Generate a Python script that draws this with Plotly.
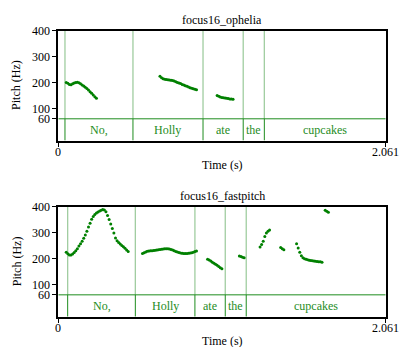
import plotly.graph_objects as go

T_END = 2.061

# ---- top panel: focus16_ophelia ----
top_no_t = [0.05, 0.06, 0.07, 0.08, 0.09, 0.10, 0.11, 0.12, 0.13, 0.14, 0.15, 0.16, 0.17, 0.18, 0.19, 0.20, 0.21, 0.22, 0.23, 0.24]
top_no_f = [200, 197, 193, 192, 195, 198, 200, 201, 199, 195, 191, 187, 182, 177, 171, 165, 159, 152, 145, 139]
top_holly_t = [0.64, 0.65, 0.66, 0.67, 0.68, 0.69, 0.70, 0.71, 0.72, 0.73, 0.74, 0.75, 0.76, 0.77, 0.78, 0.79, 0.80, 0.81, 0.82, 0.83, 0.84, 0.85, 0.86, 0.87]
top_holly_f = [224, 219, 215, 213, 212, 211, 210, 209, 208, 206, 203, 200, 198, 196, 193, 191, 188, 186, 183, 180, 178, 176, 174, 172]
top_ate_t = [1.00, 1.01, 1.02, 1.03, 1.04, 1.05, 1.06, 1.07, 1.08, 1.09, 1.10]
top_ate_f = [150, 147, 144, 142, 141, 140, 139, 138, 137, 137, 136]

top_bounds = [0.042, 0.47, 0.911, 1.164, 1.297]
top_labels = ["No,", "Holly", "ate", "the", "cupcakes"]

# ---- bottom panel: focus16_fastpitch ----
bot_no_t = [0.05, 0.06, 0.07, 0.08, 0.09, 0.10, 0.11, 0.12, 0.13, 0.14, 0.15, 0.16, 0.17, 0.18, 0.19, 0.20,
            0.21, 0.22, 0.23, 0.24, 0.25, 0.26, 0.27, 0.28, 0.29, 0.30, 0.31, 0.32, 0.33, 0.34, 0.35, 0.36,
            0.37, 0.38, 0.39, 0.40, 0.41, 0.42, 0.43, 0.44]
bot_no_f = [224, 218, 213, 213, 217, 223, 230, 238, 248, 257, 266, 278, 291, 305, 321, 336,
            351, 362, 370, 375, 379, 383, 386, 389, 387, 380, 366, 350, 333, 316, 298, 279,
            268, 262, 256, 250, 245, 239, 233, 227]
bot_holly_t = [0.53, 0.54, 0.55, 0.56, 0.57, 0.58, 0.59, 0.60, 0.61, 0.62, 0.63, 0.64, 0.65, 0.66, 0.67, 0.68,
               0.69, 0.70, 0.71, 0.72, 0.73, 0.74, 0.75, 0.76, 0.77, 0.78, 0.79, 0.80, 0.81, 0.82, 0.83, 0.84,
               0.85, 0.86, 0.87]
bot_holly_f = [219, 222, 225, 228, 229, 230, 230, 231, 232, 233, 234, 235, 236, 237, 238, 238,
               238, 237, 235, 233, 230, 227, 225, 223, 221, 220, 219, 219, 219, 220, 221, 222,
               224, 227, 229]
bot_ate_t = [0.94, 0.95, 0.96, 0.97, 0.98, 0.99, 1.00, 1.01, 1.02, 1.03]
bot_ate_f = [197, 194, 190, 186, 182, 178, 174, 169, 164, 160]
bot_the_t = [1.14, 1.15, 1.16, 1.17]
bot_the_f = [210, 208, 205, 203]
bot_cup1_t = [1.27, 1.28, 1.29, 1.30, 1.31, 1.32, 1.33]
bot_cup1_f = [244, 254, 266, 285, 298, 305, 310]
bot_cup2_t = [1.40, 1.41, 1.42]
bot_cup2_f = [242, 238, 234]
bot_cup3_t = [1.50, 1.51, 1.52, 1.53, 1.54, 1.55, 1.56, 1.57, 1.58, 1.59, 1.60, 1.61, 1.62, 1.63, 1.64, 1.65, 1.66]
bot_cup3_f = [257, 240, 224, 211, 203, 199, 197, 195, 193, 192, 191, 190, 189, 188, 187, 187, 186]
bot_cup4_t = [1.68, 1.69, 1.70]
bot_cup4_f = [386, 382, 378]

bot_bounds = [0.059, 0.485, 0.86, 1.051, 1.183]
bot_labels = ["No,", "Holly", "ate", "the", "cupcakes"]

titles = ["focus16_ophelia", "focus16_fastpitch"]
y_ticks = [60, 100, 200, 300, 400]
x_ticks = [0, T_END]
x_ticktext = ["0", "2.061"]

FLOOR = 60
Y_MIN = -24
Y_MAX = 400

DOT = "rgb(0,128,0)"
TIER_GREEN = "rgb(30,140,30)"
LIGHT_GREEN = "rgb(160,205,160)"
FONT = "Liberation Serif, Times New Roman, DejaVu Serif, serif"

W, H = 399, 347
x_dom = [58.3 / W, 385.7 / W]
y_doms = [[1 - 136.3 / H, 1 - 24.3 / H], [1 - 316.0 / H, 1 - 203.7 / H]]
x_lab_y = [147.5, 327.5]

fig = go.Figure()

panels = [
    ([(top_no_t, top_no_f), (top_holly_t, top_holly_f), (top_ate_t, top_ate_f)], top_bounds, top_labels),
    ([(bot_no_t, bot_no_f), (bot_holly_t, bot_holly_f), (bot_ate_t, bot_ate_f), (bot_the_t, bot_the_f),
      (bot_cup1_t, bot_cup1_f), (bot_cup2_t, bot_cup2_f), (bot_cup3_t, bot_cup3_f), (bot_cup4_t, bot_cup4_f)],
     bot_bounds, bot_labels),
]

shapes = []
annotations = []
for i, (segs, bounds, labels) in enumerate(panels):
    xa = "x" if i == 0 else "x2"
    ya = "y" if i == 0 else "y2"
    for b in bounds:
        shapes.append(dict(type="line", xref=xa, yref=ya, x0=b, x1=b, y0=FLOOR, y1=Y_MAX,
                           line=dict(color=LIGHT_GREEN, width=1.3), layer="below"))
        shapes.append(dict(type="line", xref=xa, yref=ya, x0=b, x1=b, y0=Y_MIN, y1=FLOOR,
                           line=dict(color=TIER_GREEN, width=1), layer="below"))
    shapes.append(dict(type="line", xref=xa, yref=ya, x0=0, x1=T_END, y0=FLOOR, y1=FLOOR,
                       line=dict(color=TIER_GREEN, width=1), layer="below"))
    ends = bounds[1:] + [T_END]
    for lab, s, e in zip(labels, bounds, ends):
        annotations.append(dict(x=(s + e) / 2, y=(Y_MIN + FLOOR) / 2, xref=xa, yref=ya, text=lab,
                                showarrow=False, font=dict(family=FONT, size=12, color=TIER_GREEN),
                                xanchor="center", yanchor="middle"))
    for t, f in segs:
        fig.add_trace(go.Scatter(x=t, y=f, mode="markers", xaxis=xa, yaxis=ya,
                                 marker=dict(size=3, color=DOT, line=dict(width=0)),
                                 showlegend=False, hoverinfo="skip"))
    # x tick labels (drawn as text so the end label is always kept)
    for v, txt in zip(x_ticks, x_ticktext):
        annotations.append(dict(x=v, y=1 - x_lab_y[i] / H, xref=xa, yref="paper", text=txt,
                                showarrow=False, font=dict(family=FONT, size=12, color="black"),
                                xanchor="center", yanchor="middle"))

title_y = [1 - 13 / H, 1 - 193 / H]
time_y = [1 - 161.5 / H, 1 - 340.5 / H]
pitch_y = [1 - 80 / H, 1 - 260 / H]
cx = (x_dom[0] + x_dom[1]) / 2
for i in range(2):
    annotations.append(dict(x=cx, y=title_y[i], xref="paper", yref="paper", text=titles[i], showarrow=False,
                            font=dict(family=FONT, size=12, color="black"), xanchor="center", yanchor="middle"))
    annotations.append(dict(x=cx, y=time_y[i], xref="paper", yref="paper", text="Time (s)", showarrow=False,
                            font=dict(family=FONT, size=12, color="black"), xanchor="center", yanchor="middle"))
    annotations.append(dict(x=16.5 / W, y=pitch_y[i], xref="paper", yref="paper", text="Pitch (Hz)",
                            showarrow=False, textangle=-90,
                            font=dict(family=FONT, size=12, color="black"), xanchor="center", yanchor="middle"))

xaxis_common = dict(range=[0, T_END], domain=x_dom, tickvals=x_ticks, showticklabels=False,
                    ticks="outside", ticklen=4, tickwidth=1, tickcolor="black",
                    showline=True, linecolor="black", linewidth=2, mirror=True,
                    showgrid=False, zeroline=False, fixedrange=True)
yaxis_common = dict(range=[Y_MIN, Y_MAX], tickvals=y_ticks, ticktext=[str(v) for v in y_ticks],
                    ticks="outside", ticklen=4, tickwidth=1, tickcolor="black",
                    showline=True, linecolor="black", linewidth=2, mirror=True,
                    showgrid=False, zeroline=False, fixedrange=True,
                    tickfont=dict(family=FONT, size=12, color="black"))

fig.update_layout(
    width=W, height=H,
    margin=dict(l=0, r=0, t=0, b=0),
    paper_bgcolor="white", plot_bgcolor="white",
    xaxis=dict(**xaxis_common, anchor="y"),
    yaxis=dict(**yaxis_common, domain=y_doms[0], anchor="x"),
    xaxis2=dict(**xaxis_common, anchor="y2"),
    yaxis2=dict(**yaxis_common, domain=y_doms[1], anchor="x2"),
    shapes=shapes,
    annotations=annotations,
    font=dict(family=FONT, size=12, color="black"),
)

fig.write_html("out.html")
